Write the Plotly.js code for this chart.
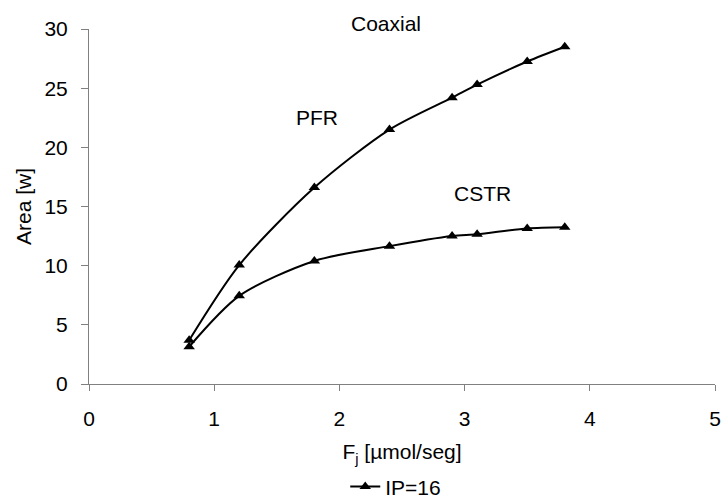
<!DOCTYPE html>
<html>
<head>
<meta charset="utf-8">
<script src="https://cdn.plot.ly/plotly-3.0.1.min.js"></script>
<style>html,body{margin:0;padding:0;background:#fff;}#chart{width:722px;height:502px;}</style>
</head>
<body>
<div id="chart"></div>
<script>
const flowRates = [0.8, 1.2, 1.8, 2.4, 2.9, 3.1, 3.5, 3.8];
const pfrArea = [3.7, 10.05, 16.6, 21.5, 24.2, 25.3, 27.25, 28.5];
const cstrArea = [3.15, 7.45, 10.4, 11.65, 12.5, 12.65, 13.15, 13.25];
const seriesName = "IP=16";
const xTicks = [0, 1, 2, 3, 4, 5];
const yTicks = [0, 5, 10, 15, 20, 25, 30];

const lineStyle = {color: "#000", width: 2, shape: "spline", smoothing: 0.8};
const markerStyle = {symbol: "triangle-up", size: 10, color: "#000"};

const traces = [
  {x: flowRates, y: pfrArea, mode: "lines+markers", name: seriesName,
   line: lineStyle, marker: markerStyle, showlegend: true, cliponaxis: false},
  {x: flowRates, y: cstrArea, mode: "lines+markers", name: seriesName,
   line: lineStyle, marker: markerStyle, showlegend: false, cliponaxis: false}
];

const font = {family: "Liberation Sans, Arial, sans-serif", size: 21, color: "#000"};

const layout = {
  width: 722, height: 502,
  margin: {l: 89, r: 7, t: 29, b: 118, autoexpand: false},
  paper_bgcolor: "#fff", plot_bgcolor: "#fff",
  font: font,
  showlegend: true,
  legend: {orientation: "h", x: 0.49, xanchor: "center", y: -0.29, yanchor: "middle",
           font: font, itemwidth: 30, tracegroupgap: 0},
  xaxis: {
    range: [0, 5], tickvals: xTicks, ticktext: xTicks.map(String), automargin: false,
    showgrid: false, zeroline: false, showline: true, linecolor: "#808080", linewidth: 1,
    ticks: "outside", ticklen: 6, tickcolor: "#808080", tickwidth: 1,
    ticklabelstandoff: 10, tickfont: font,
    title: {text: "F<sub>j</sub> [µmol/seg]", font: font, standoff: 15}
  },
  yaxis: {
    range: [0, 30], tickvals: yTicks, ticktext: yTicks.map(String), automargin: false,
    showgrid: false, zeroline: false, showline: true, linecolor: "#808080", linewidth: 1,
    ticks: "outside", ticklen: 7, tickcolor: "#808080", tickwidth: 1,
    ticklabelstandoff: 9, tickfont: font,
    title: {text: "Area [w]", font: font, standoff: 7}
  },
  annotations: [
    {text: "Coaxial", xref: "x", yref: "paper", x: 2.37, y: 1.015, showarrow: false,
     xanchor: "center", yanchor: "middle", font: font},
    {text: "PFR", xref: "x", yref: "y", x: 1.82, y: 22.5, showarrow: false,
     xanchor: "center", yanchor: "middle", font: font},
    {text: "CSTR", xref: "x", yref: "y", x: 3.14, y: 16.1, showarrow: false,
     xanchor: "center", yanchor: "middle", font: font}
  ]
};

Plotly.newPlot("chart", traces, layout, {staticPlot: true, displayModeBar: false});
</script>
</body>
</html>
